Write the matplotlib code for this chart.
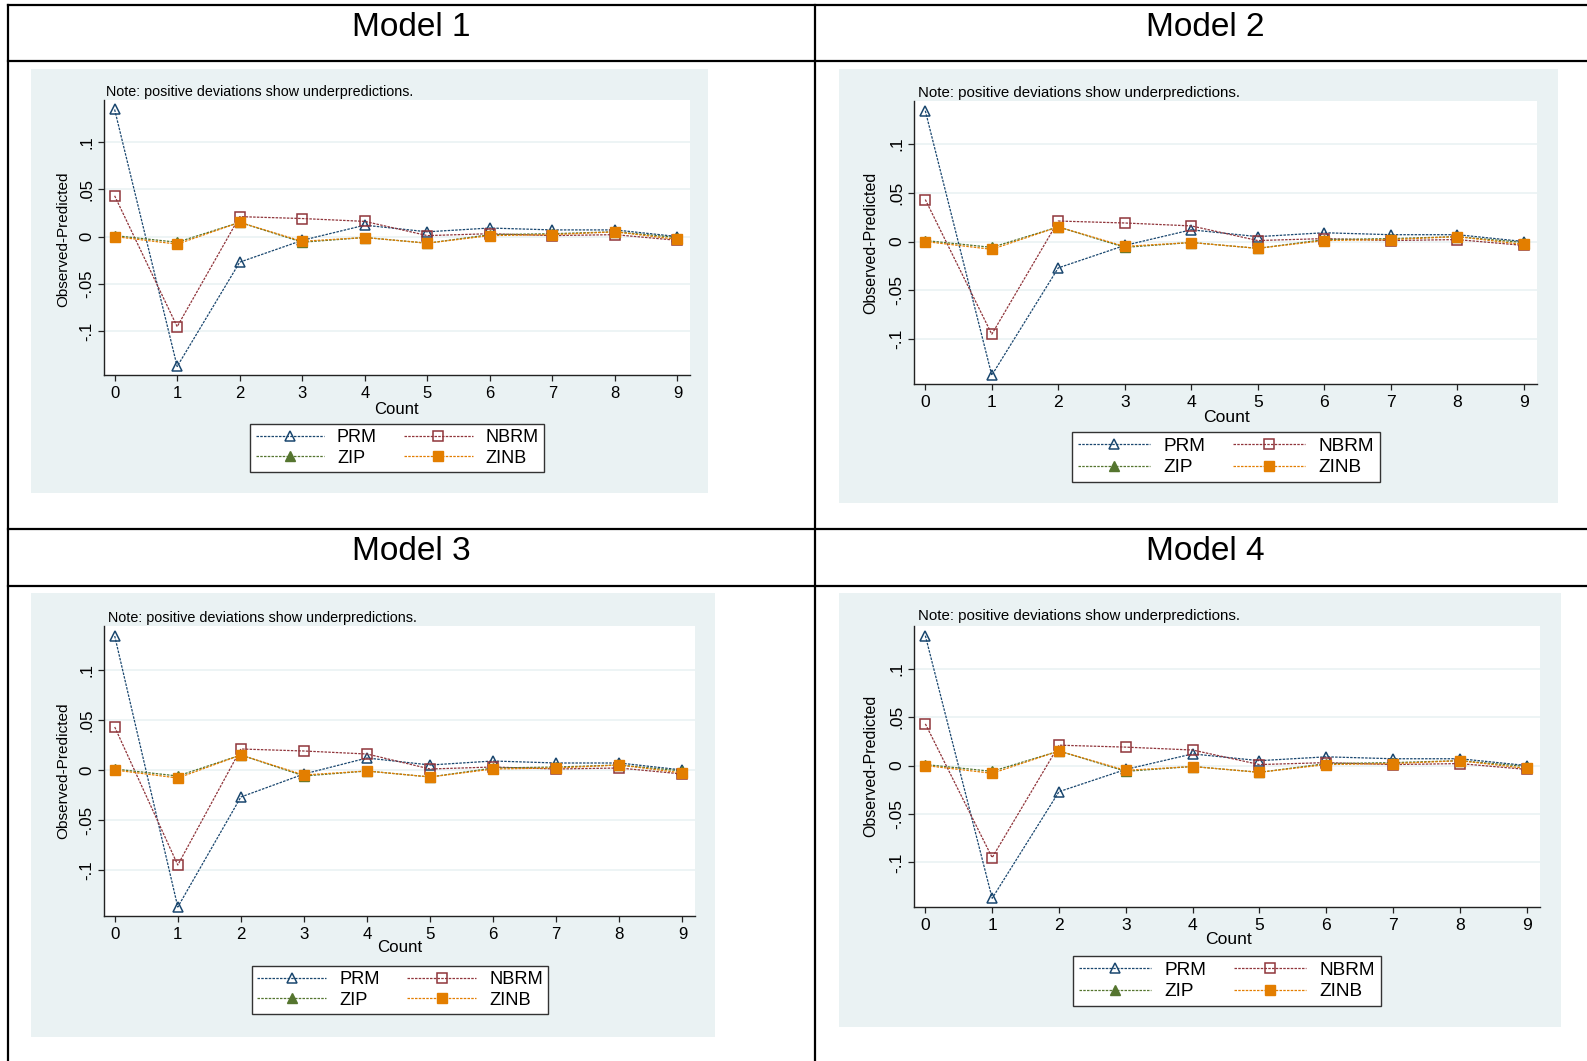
import matplotlib
matplotlib.use("Agg")
import matplotlib.pyplot as plt
from matplotlib.lines import Line2D
from matplotlib.patches import Rectangle

# Canvas size in pixels (dpi 100)
W, H = 1587, 1061

# Data (same pattern in all four models)
counts = [0, 1, 2, 3, 4, 5, 6, 7, 8, 9]
prm = [0.134, -0.137, -0.027, -0.004, 0.012, 0.005, 0.009, 0.007, 0.007, 0.000]
nbrm = [0.043, -0.095, 0.021, 0.019, 0.016, 0.001, 0.003, 0.001, 0.002, -0.004]
zip_ = [0.001, -0.006, 0.015, -0.006, -0.001, -0.007, 0.002, 0.003, 0.005, -0.001]
zinb = [0.000, -0.008, 0.015, -0.005, -0.001, -0.007, 0.001, 0.002, 0.005, -0.003]

model_names = ["Model 1", "Model 2", "Model 3", "Model 4"]
y_ticks = [-0.1, -0.05, 0, 0.05, 0.1]
y_ticklabels = ["-.1", "-.05", "0", ".05", ".1"]
note = "Note: positive deviations show underpredictions."

# Stata s2color palette
BG = "#eaf2f3"
C_PRM = "#1a476f"
C_NBRM = "#90353b"
C_ZIP = "#55752f"
C_ZINB = "#e37e00"

plt.rcParams["font.family"] = ["Liberation Sans", "DejaVu Sans"]

fig = plt.figure(figsize=(W / 100, H / 100), dpi=100)
fig.patch.set_facecolor("white")


def fx(x):
    return x / W


def fy(y):
    return 1 - y / H


# table grid
for yy in [5, 61, 529, 586]:
    fig.add_artist(Line2D([fx(8), 1], [fy(yy), fy(yy)], color="black", lw=1.6))
for xx in [8, 815]:
    fig.add_artist(Line2D([fx(xx), fx(xx)], [fy(5), 0], color="black", lw=1.6))

# header text positions
headers = [(411, 27), (1205, 27), (411, 551), (1205, 551)]
for name, (hx, hy) in zip(model_names, headers):
    fig.text(fx(hx), fy(hy), name, ha="center", va="center", fontsize=24)

# panel layout: background box, plot box, note, ylabel, xlabel, legend centre
# sc = text scale (right-hand images were pasted in slightly larger)
panels = [
    dict(bg=(31, 69, 708, 493), plot=(104, 100, 690, 375), note=(106, 92),
         ylab=(63, 239), xlab=(396, 409), leg=(397, 448), sc=1.0),
    dict(bg=(839, 69, 1558, 503), plot=(914, 101, 1537, 384), note=(918, 93),
         ylab=(871, 243), xlab=(1226, 417), leg=(1226, 457), sc=1.05),
    dict(bg=(31, 593, 715, 1037), plot=(104, 626, 695, 916), note=(108, 618),
         ylab=(63, 771), xlab=(400, 948), leg=(400, 990), sc=1.01),
    dict(bg=(839, 593, 1561, 1027), plot=(914, 626, 1540, 907), note=(918, 616),
         ylab=(871, 766), xlab=(1228, 939), leg=(1227, 981), sc=1.05),
]

for p in panels:
    sc = p["sc"]
    x0, y0, x1, y1 = p["bg"]
    fig.add_artist(Rectangle((fx(x0), fy(y1)), fx(x1 - x0), (y1 - y0) / H,
                             transform=fig.transFigure, facecolor=BG,
                             edgecolor="none", zorder=0))

    x0, y0, x1, y1 = p["plot"]
    ax = fig.add_axes([fx(x0), fy(y1), fx(x1 - x0), (y1 - y0) / H])
    ax.set_facecolor("white")

    l_prm, = ax.plot(counts, prm, color=C_PRM, lw=0.9, ls=(0, (2, 1)),
                     marker="^", ms=7, mfc="none", mec=C_PRM, mew=1.1)
    l_nbrm, = ax.plot(counts, nbrm, color=C_NBRM, lw=0.9, ls=(0, (2, 1)),
                      marker="s", ms=6.5, mfc="none", mec=C_NBRM, mew=1.1)
    l_zip, = ax.plot(counts, zip_, color=C_ZIP, lw=0.9, ls=(0, (2, 1)),
                     marker="^", ms=7, mfc=C_ZIP, mec=C_ZIP)
    l_zinb, = ax.plot(counts, zinb, color=C_ZINB, lw=0.9, ls=(0, (2, 1)),
                      marker="s", ms=7, mfc=C_ZINB, mec=C_ZINB)

    ax.set_xlim(-0.17, 9.2)
    ax.set_ylim(-0.146, 0.144)
    ax.set_xticks(counts)
    ax.set_xticklabels([str(c) for c in counts], fontsize=12 * sc)
    ax.set_yticks(y_ticks)
    ax.set_yticklabels(y_ticklabels, fontsize=12 * sc, rotation=90, va="center")
    ax.grid(axis="y", color=BG, lw=1.2)
    ax.set_axisbelow(True)
    for s in ["top", "right"]:
        ax.spines[s].set_visible(False)
    for s in ["left", "bottom"]:
        ax.spines[s].set_color("#222222")
        ax.spines[s].set_linewidth(1.0)
    ax.tick_params(length=4, width=0.9, color="#222222", pad=3)
    ax.tick_params(axis="x", pad=4)

    fig.text(fx(p["note"][0]), fy(p["note"][1]), note, fontsize=10.3 * sc,
             ha="left", va="center")
    fig.text(fx(p["ylab"][0]), fy(p["ylab"][1]), "Observed-Predicted",
             fontsize=11 * sc, rotation=90, ha="center", va="center")
    fig.text(fx(p["xlab"][0]), fy(p["xlab"][1]), "Count", fontsize=12 * sc,
             ha="center", va="center")

    # column-wise fill so rows read PRM NBRM / ZIP ZINB
    leg = fig.legend([l_prm, l_zip, l_nbrm, l_zinb],
                     ["PRM", "ZIP", "NBRM", "ZINB"],
                     loc="center", ncol=2, fontsize=13 * sc,
                     bbox_to_anchor=(fx(p["leg"][0]), fy(p["leg"][1])),
                     handlelength=3.8, handletextpad=0.7, columnspacing=1.5,
                     labelspacing=0.2, borderpad=0.3, fancybox=False,
                     framealpha=1, edgecolor="#333333")
    leg.get_frame().set_linewidth(1.0)

fig.savefig("out.png", dpi=100)
